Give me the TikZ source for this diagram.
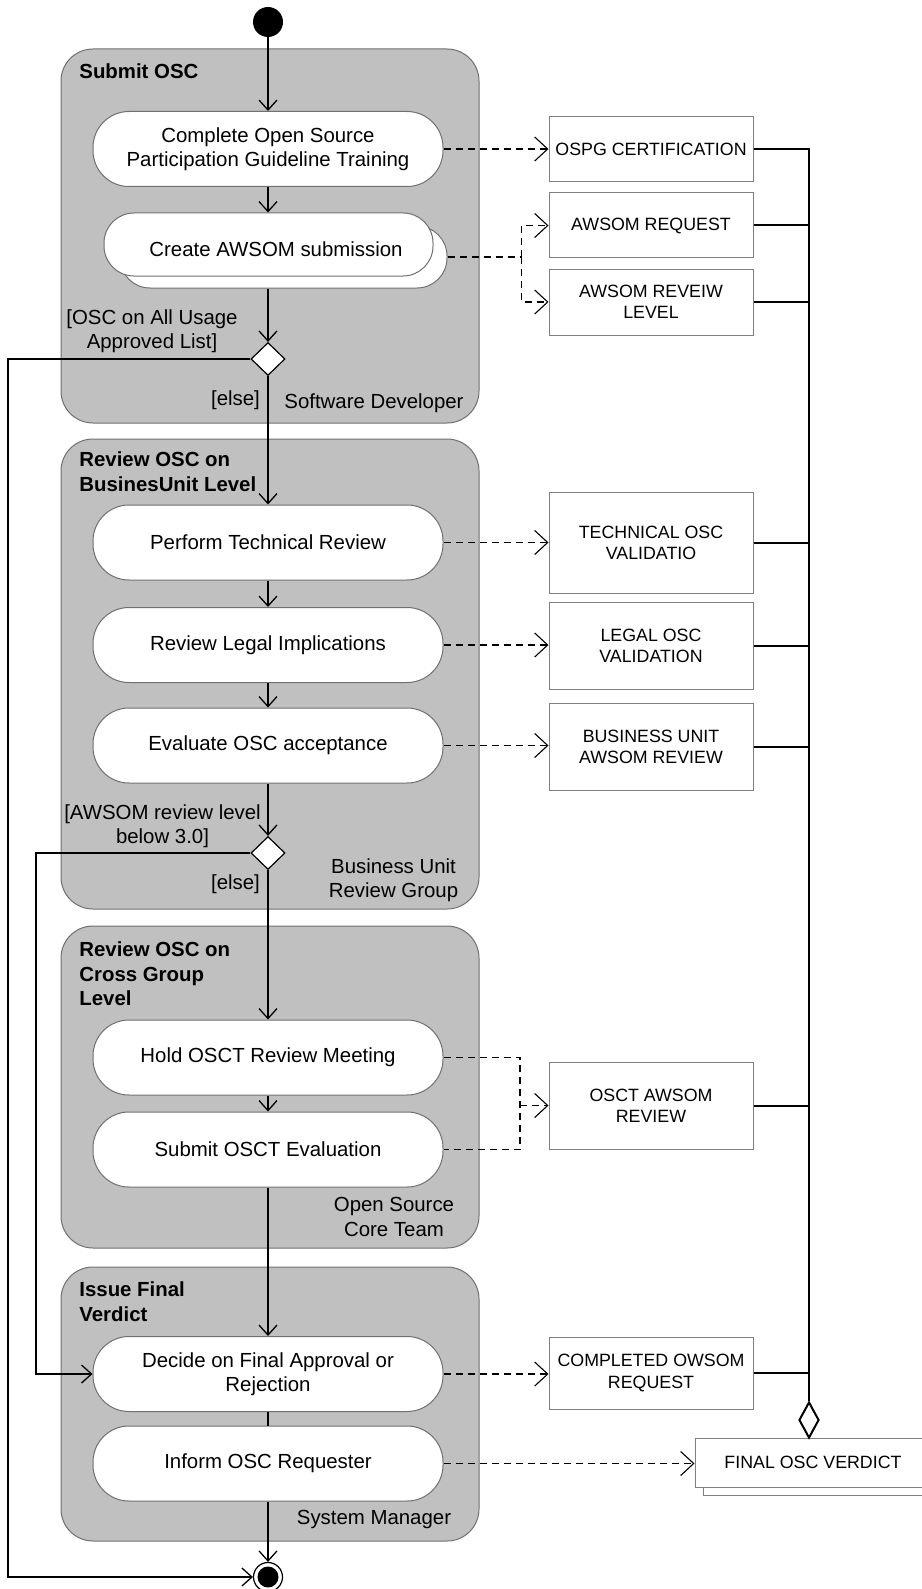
\documentclass[tikz,border=0pt]{standalone}
\usepackage{fontspec}
\setmainfont{Liberation Sans}
\usetikzlibrary{arrows.meta,shapes.geometric}
\definecolor{lanefill}{HTML}{C0C0C0}
\definecolor{laneedge}{HTML}{707070}
\definecolor{boxedge}{HTML}{808080}
\begin{document}
\begin{tikzpicture}[x=0.5pt,y=-0.5pt,
  every node/.style={font=\fontsize{10.2pt}{12.2pt}\selectfont, inner sep=0pt},
  grp/.style={draw=laneedge, line width=0.5pt, fill=lanefill, rounded corners=16pt, rectangle},
  act/.style={draw=laneedge, line width=0.5pt, fill=white, rounded corners=18pt, rectangle,
              minimum width=175pt, minimum height=37.5pt, align=center},
  objbox/.style={draw=boxedge, line width=0.5pt, fill=white, rectangle, minimum width=102pt,
                 align=center, font=\fontsize{8.9pt}{10.6pt}\selectfont},
  gtitle/.style={font=\fontsize{10.2pt}{12.2pt}\selectfont\bfseries, align=left},
  lbl/.style={align=center},
  decision/.style={diamond, draw=black, line width=0.6pt, fill=white, minimum width=17pt, minimum height=16.5pt},
  flow/.style={draw=black, line width=0.65pt, -{Straight Barb[length=5pt,width=9pt,line width=0.65pt]}},
  plainflow/.style={draw=black, line width=0.65pt},
  dline/.style={draw=black, line width=0.6pt, dash pattern=on 3.5pt off 2.5pt},
  obj/.style={dline, -{Straight Barb[length=6.5pt,width=12pt,line width=0.55pt]}},
  agg/.style={draw=black, line width=1pt}
]
\useasboundingbox (0,0) rectangle (921,1589);

% activity groups (shaded partitions)
\node[grp, minimum width=209pt, minimum height=187pt] (g1) at (270,236) {};
\node[grp, minimum width=209pt, minimum height=235pt] (g2) at (270,674) {};
\node[grp, minimum width=209pt, minimum height=161pt] (g3) at (270,1087) {};
\node[grp, minimum width=209pt, minimum height=137pt] (g4) at (270,1404) {};

\node[gtitle, anchor=west] (t1) at (79,71) {Submit OSC};
\node[gtitle, anchor=north west] (t2) at (79,451.5) {Review OSC on\\BusinesUnit Level};
\node[gtitle, anchor=north west] (t3) at (79,941.5) {Review OSC on\\Cross Group\\Level};
\node[gtitle, anchor=north west] (t4) at (79,1281.5) {Issue Final\\Verdict};

\node[lbl] (r1) at (374,403) {Software Developer};
\node[lbl] (r2) at (393.5,880.5) {Business Unit\\Review Group};
\node[lbl] (r3) at (394,1217) {Open Source\\Core Team};
\node[lbl] (r4) at (374,1519) {System Manager};

% initial and final nodes
\node[circle, fill=black, minimum size=15pt] (start) at (268,22) {};
\node[circle, draw=black, line width=0.6pt, fill=white, minimum size=14.5pt] (endn) at (268,1577) {};
\node[circle, fill=black, minimum size=10.5pt] (endc) at (268,1577) {};

% actions
\node[act] (a1) at (268,149) {Complete Open Source\\Participation Guideline Training};
\node[act, rounded corners=15pt, minimum width=163.5pt, minimum height=31pt] (a2b) at (283.5,257) {};
\node[act, rounded corners=15pt, minimum width=164.5pt, minimum height=31.5pt] (a2f) at (268.5,244.5) {};
\node[lbl] (a2t) at (276,249) {Create AWSOM submission};
\node[act] (a3) at (268,542.5) {Perform Technical Review};
\node[act] (a4) at (268,645) {Review Legal Implications};
\node[act] (a5) at (268,745.5) {Evaluate OSC acceptance};
\node[act] (a6) at (268,1057.5) {Hold OSCT Review Meeting};
\node[act] (a7) at (268,1149.5) {Submit OSCT Evaluation};
\node[act] (a8) at (268,1374) {Decide on Final Approval or\\Rejection};
\node[act] (a9) at (268,1463.5) {Inform OSC Requester};

% decisions and guards
\node[decision] (d1) at (268,359) {};
\node[decision] (d2) at (268,853) {};
\node[lbl] (g1a) at (152,331) {[OSC on All Usage\\Approved List]};
\node[lbl] (g1b) at (235.5,400) {[else]};
\node[lbl] (g2a) at (162.5,826) {[AWSOM review level\\below 3.0]};
\node[lbl] (g2b) at (235.5,884) {[else]};

% object nodes
\node[objbox, minimum height=32.5pt] (b1) at (651,149.5) {OSPG CERTIFICATION};
\node[objbox, minimum height=32.5pt] (b2) at (651,225.5) {AWSOM REQUEST};
\node[objbox, minimum height=33pt] (b3) at (651,302) {AWSOM REVEIW\\LEVEL};
\node[objbox, minimum height=50.5pt] (b4) at (651,542.5) {TECHNICAL OSC\\VALIDATIO};
\node[objbox, minimum height=43.5pt] (b5) at (651,645.5) {LEGAL OSC\\VALIDATION};
\node[objbox, minimum height=43.5pt] (b6) at (651,746.5) {BUSINESS UNIT\\AWSOM REVIEW};
\node[objbox, minimum height=43.5pt] (b7) at (651,1105.5) {OSCT AWSOM\\REVIEW};
\node[objbox, minimum height=36pt] (b8) at (651,1373) {COMPLETED OWSOM\\REQUEST};
\node[objbox, minimum width=118pt, minimum height=24.5pt] (fvb) at (821,1470.5) {};
\node[objbox, minimum width=118pt, minimum height=24.5pt] (fv) at (813,1462.5) {FINAL OSC VERDICT};

% aggregation into the final verdict
\node[diamond, draw=black, line width=1pt, fill=white, minimum width=10pt, minimum height=18pt] (aggd) at (809,1420) {};
\draw[agg] (b1.east) -| (aggd.north);
\foreach \b in {b2,b3,b4,b5,b6,b7,b8}
  \draw[agg] (\b.east) -- (\b.east -| aggd.north);

% control flow
\draw[flow] (start) -- (a1.north);
\draw[flow] (a1.south) -- (a1.south |- a2f.north);
\draw[flow] (d1 |- a2b.south) -- (d1.north);
\draw[flow] (d1.south) -- (a3.north);
\coordinate (l1) at (8,1577);
\draw[flow] (d1.west) -| (l1) -- (endn.west);
\draw[flow] (a3.south) -- (a4.north);
\draw[flow] (a4.south) -- (a5.north);
\draw[flow] (a5.south) -- (d2.north);
\draw[flow] (d2.south) -- (a6.north);
\coordinate (l2) at (36,1374);
\draw[flow] (d2.west) -| (l2) -- (a8.west);
\draw[flow] (a6.south) -- (a7.north);
\draw[flow] (a7.south) -- (a8.north);
\draw[plainflow] (a8.south) -- (a9.north);
\draw[flow] (a9.south) -- (endn.north);

% object flow
\draw[obj] (a1.east) -- (a1.east -| b1.west);
\path (a2b.east) ++(74,0) coordinate (j1);
\draw[dline] (a2b.east) -- (j1);
\draw[obj] (j1) |- (b2.west);
\draw[obj] (j1) |- (b3.west);
\draw[obj] (a3.east) -- (a3.east -| b4.west);
\draw[obj] (a4.east) -- (a4.east -| b5.west);
\draw[obj] (a5.east) -- (a5.east -| b6.west);
\coordinate (j2) at (520,1105.5);
\draw[dline] (a6.east) -| (j2) |- (a7.east);
\draw[obj] (j2) -- (b7.west);
\draw[obj] (a8.east) -- (a8.east -| b8.west);
\draw[obj] (a9.east) -- (a9.east -| fv.west);
\end{tikzpicture}
\end{document}
